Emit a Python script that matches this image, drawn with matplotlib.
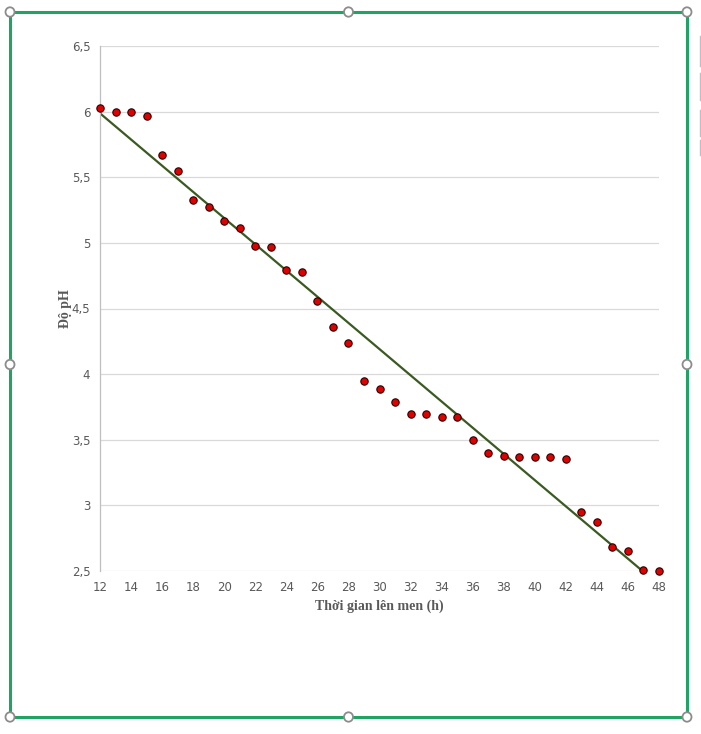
import numpy as np
import matplotlib
matplotlib.use('Agg')
import matplotlib.pyplot as plt
from matplotlib.patches import Rectangle, Circle
from matplotlib.lines import Line2D

# thoi gian (h) va do pH
hours = list(range(12, 49))
ph = [6.03, 6.00, 6.00, 5.97, 5.67, 5.55, 5.33, 5.27, 5.17, 5.11,
      4.98, 4.97, 4.79, 4.78, 4.56, 4.36, 4.24, 3.95, 3.89, 3.79,
      3.70, 3.70, 3.67, 3.67, 3.50, 3.40, 3.38, 3.37, 3.37, 3.37,
      3.35, 2.95, 2.87, 2.68, 2.65, 2.51, 2.50]
x_ticks = list(range(12, 49, 2))
y_ticks = [2.5, 3, 3.5, 4, 4.5, 5, 5.5, 6, 6.5]
y_labels = ['2,5', '3', '3,5', '4', '4,5', '5', '5,5', '6', '6,5']

W, H = 701, 734
fig = plt.figure(figsize=(W / 100, H / 100), dpi=100)
ax = fig.add_axes([100 / W, 1 - 571 / H, 559 / W, 525 / H])

gray = '#595959'
ax.set_xlim(12, 48)
ax.set_ylim(2.5, 6.5)
ax.set_xticks(x_ticks)
ax.set_yticks(y_ticks)
ax.set_yticklabels(y_labels)
ax.tick_params(length=0, labelsize=8.5, labelcolor=gray, pad=7)
ax.grid(axis='y', color='#d9d9d9', linewidth=0.9)
ax.set_axisbelow(True)
for s in ['top', 'right', 'bottom']:
    ax.spines[s].set_visible(False)
ax.spines['left'].set_color('#bfbfbf')
ax.spines['left'].set_linewidth(0.9)

# duong xu huong tuyen tinh
k, b = np.polyfit(hours, ph, 1)
xl = np.array([12, 48])
ax.plot(xl, k * xl + b, color='#3b5a22', linewidth=1.6, zorder=2)

ax.scatter(hours, ph, s=28, color='#e00000', edgecolors='#2a0000',
           linewidths=0.8, zorder=3, clip_on=False)

ax.set_xlabel('Thời gian lên men (h)', fontsize=10, fontweight='bold',
              family='Liberation Serif', color=gray, labelpad=4)
ax.set_ylabel('Độ pH', fontsize=10, fontweight='bold',
              family='Liberation Serif', color=gray, labelpad=0)

# khung bieu do (dang duoc chon)
x0, y0, x1, y1 = 10, 12, 687, 717
fig.patches.append(Rectangle((x0 / W, 1 - y1 / H), (x1 - x0) / W, (y1 - y0) / H,
                             transform=fig.transFigure, fill=False,
                             edgecolor='#21a366', linewidth=2.2))
for hx in [x0, (x0 + x1) / 2, x1]:
    for hy in [y0, (y0 + y1) / 2, y1]:
        if hx == (x0 + x1) / 2 and hy == (y0 + y1) / 2:
            continue
        fig.patches.append(Circle((hx / W, 1 - hy / H), 4.5 / W,
                                  transform=fig.transFigure, facecolor='white',
                                  edgecolor='#8c8c8c', linewidth=1.3, zorder=5))

for ya, yb in [(36, 66), (73, 100), (110, 136), (140, 155)]:
    fig.lines.append(Line2D([700 / W, 700 / W], [1 - ya / H, 1 - yb / H],
                            transform=fig.transFigure, color='#bfbfbf', linewidth=1))

fig.savefig('out.png', dpi=100)
